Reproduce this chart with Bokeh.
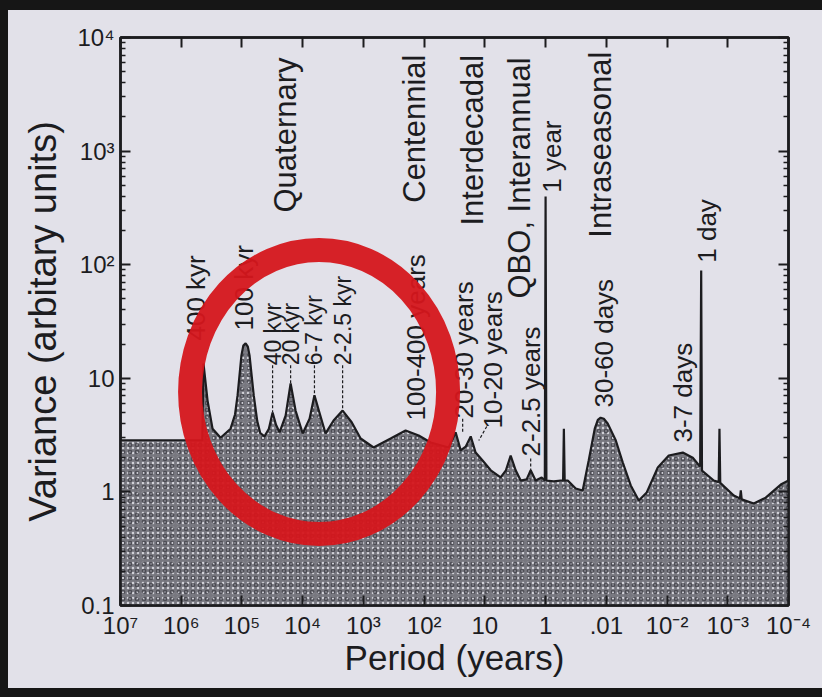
import numpy as np
from bokeh.plotting import figure
from bokeh.models import (Range1d, FixedTicker, ColumnDataSource, LogAxis,
                          BasicTickFormatter)
from bokeh.embed import file_html
from bokeh.resources import INLINE
from bokeh.core.properties import value

# ---------------- data ----------------
# spectrum: period (years) and variance (arbitrary units)
period = [
    1e7, 4.5e5, 4.3e5, 3.69e5, 3.05e5, 2.25e5,            # flat + 400 kyr
    1.54e5, 1.3e5, 1.18e5, 1.02e5, 9.5e4, 8.7e4, 8.0e4, 7.5e4, 6.4e4, 5.6e4, 5.0e4,  # 100 kyr
    4.25e4, 3.6e4, 3.13e4, 2.75e4, 2.4e4,                  # 40 kyr
    1.91e4, 1.58e4, 1.31e4, 1.0e4,                         # 20 kyr
    7.7e3, 6.4e3, 5.3e3, 4.2e3,                            # 6-7 kyr
    3.1e3, 2.2e3, 1.56e3, 1.11e3,                          # 2-2.5 kyr
    680, 356, 202, 123, 78,                                # 100-400 years
    39.4, 30.3, 25, 20.7, 17.1, 14.2, 10.9, 8.0,           # decadal
    5.5, 4.5, 3.76, 3.11, 2.57, 2.05, 1.76, 1.46, 1.16,    # interannual
    1.03, 1.0, 0.97,                                       # 1 year
    0.735, 0.563, 0.515, 0.5, 0.485, 0.432, 0.319, 0.245,  # half year
    0.195, 0.155, 0.138, 0.124, 0.110, 0.095, 0.070, 0.0537, 0.0396,  # 30-60 days
    0.0292, 0.0216, 0.0142, 0.00937, 0.00551, 0.00377,     # 3-7 days
    0.00285, 0.00274, 0.00266,                             # 1 day
    0.0017, 0.00141, 0.00137, 0.00133,                     # half day
    7.96e-4, 6.3e-4, 6.1e-4, 5.9e-4, 3.73e-4, 2.37e-4, 1.34e-4, 1e-4,
]
variance = [
    2.85, 2.85, 13.5, 6.4, 3.6, 3.0,
    3.6, 4.8, 7.1, 15.9, 19.4, 20.3, 19.0, 15.9, 7.1, 4.2, 3.3,
    3.08, 3.6, 5.0, 3.9, 3.34,
    4.7, 9.0, 5.2, 3.27,
    4.4, 7.1, 5.0, 3.27,
    4.25, 5.2, 4.1, 2.95,
    2.46, 2.95, 3.47, 3.14, 2.72,
    2.46, 3.34, 2.32, 2.5, 3.08, 2.22, 1.89, 1.55,
    1.34, 1.55, 2.09, 1.55, 1.26, 1.29, 1.55, 1.26, 1.34,
    1.26, 398, 1.26,
    1.24, 1.26, 1.26, 3.6, 1.26, 1.26, 1.07, 1.03,
    1.89, 3.6, 4.3, 4.5, 4.4, 4.0, 2.85, 1.82, 1.14,
    0.84, 0.99, 1.64, 2.09, 2.22, 2.0,
    1.67, 89, 1.54,
    1.26, 1.22, 3.6, 1.2,
    0.93, 0.875, 1.03, 0.86, 0.79, 0.89, 1.16, 1.26,
]

# band labels (large)
big_text = ["Quaternary", "Centennial", "Interdecadal", "QBO, Interannual", "Intraseasonal"]
big_period = [1.9e4, 144, 15.9, 2.67, 0.1236]
big_var = [288, 351, 221, 50.4, 173]

# peak labels
peak_text = ["400 kyr", "100 kyr", "100-400 years", "20-30 years", "10-20 years",
             "2-2.5 years", "30-60 days", "3-7 days"]
peak_period = [5.8e5, 9.4e4, 138, 22.3, 7.43, 1.76, 0.110, 0.0055]
peak_var = [21.5, 26.4, 4.26, 4.42, 3.62, 2.05, 5.53, 2.72]

# small orbital labels
orb_text = ["40 kyr", "20 kyr", "6-7 kyr", "2-2.5 kyr"]
orb_period = [3.13e4, 1.58e4, 6.4e3, 2.2e3]
orb_var = [13.0, 13.0, 13.0, 13.0]
orb_peak = [5.0, 9.0, 7.1, 5.2]

# spike labels
spike_text = ["1 year", "1 day"]
spike_period = [0.794, 0.00222]
spike_var = [430, 104]

x_ticks = [1e7, 1e6, 1e5, 1e4, 1e3, 1e2, 10.0, 1.0, 0.1, 0.01, 0.001, 1e-4]
x_tick_labels = ["10\u2077", "10\u2076", "10\u2075", "10\u2074", "10\u00b3", "10\u00b2",
                 "10", "1", ".01", "10\u207b\u00b2", "10\u207b\u00b3", "10\u207b\u2074"]
y_ticks = [0.1, 1.0, 10.0, 100.0, 1000.0, 10000.0]
y_tick_labels = ["0.1", "1", "10", "10\u00b2", "10\u00b3", "10\u2074"]

# ---------------- figure ----------------
BG = "#e2e1e9"
DARK = "#161616"
INK = "#1c1c1f"
FONT = "Liberation Sans"

p = figure(width=822, height=697, x_axis_type="log", y_axis_type="log",
           x_range=Range1d(1e7, 1e-4), y_range=Range1d(0.1, 1e4),
           output_backend="svg", toolbar_location=None,
           min_border_left=120, min_border_right=34, min_border_top=37, min_border_bottom=92,
           background_fill_color=BG, border_fill_color=BG, border_fill_alpha=0)
# light slide with the dark edges of the photograph (top, left, bottom)
p.styles = {"background-color": BG,
            "box-shadow": f"inset 8px 10px 0 0 {DARK}, inset 0 -9px 0 0 {DARK}"}
p.grid.visible = False
p.outline_line_color = INK
p.outline_line_width = 2.5

minor_y = [k * 10.0 ** d for d in range(-1, 4) for k in range(2, 10)]
xt = FixedTicker(ticks=x_ticks, minor_ticks=[])
yt = FixedTicker(ticks=y_ticks, minor_ticks=minor_y)

def style_axis(ax, labels=True):
    ax.formatter = BasicTickFormatter()
    ax.axis_line_color = INK
    ax.axis_line_width = 2.5
    ax.major_tick_line_color = INK
    ax.major_tick_line_width = 2
    ax.major_tick_in = 10
    ax.major_tick_out = 0
    ax.minor_tick_line_color = INK
    ax.minor_tick_line_width = 1.5
    ax.minor_tick_in = 5
    ax.minor_tick_out = 0
    ax.major_label_text_font = FONT
    ax.major_label_text_color = INK
    if not labels:
        ax.major_label_text_font_size = "2px"
        ax.major_label_text_color = None
        ax.major_label_standoff = 0

xa = p.xaxis[0]
xa.ticker = xt
style_axis(xa)
xa.major_label_overrides = dict(zip(x_ticks, x_tick_labels))
xa.major_label_text_font_size = "24px"
xa.major_label_standoff = 6
xa.axis_label = "Period (years)"
xa.axis_label_text_font = FONT
xa.axis_label_text_font_size = "35px"
xa.axis_label_text_font_style = "normal"
xa.axis_label_text_color = INK
xa.axis_label_standoff = -4

ya = p.yaxis[0]
ya.ticker = yt
style_axis(ya)
ya.major_label_overrides = dict(zip(y_ticks, y_tick_labels))
ya.major_label_text_font_size = "24px"
ya.major_label_standoff = 6
ya.axis_label = "Variance (arbitary units)"
ya.axis_label_text_font = FONT
ya.axis_label_text_font_size = "38px"
ya.axis_label_text_font_style = "normal"
ya.axis_label_text_color = INK
ya.axis_label_standoff = 10

top = LogAxis(ticker=xt)
style_axis(top, labels=False)
p.add_layout(top, "above")
right = LogAxis(ticker=yt)
style_axis(right, labels=False)
p.add_layout(right, "right")

# ---------------- spectrum ----------------
src = ColumnDataSource(dict(period=period, variance=variance))
p.varea(x="period", y1=0.1, y2="variance", source=src,
        fill_color="#77777f", hatch_pattern="dot", hatch_color="#d2d2d9",
        hatch_scale=5, hatch_weight=1.6)
p.varea(x="period", y1=0.1, y2="variance", source=src,
        fill_alpha=0, hatch_pattern="ring", hatch_color="#38383e",
        hatch_scale=7, hatch_weight=1.2, hatch_alpha=0.7)
p.line(x="period", y="variance", source=src, line_color=INK, line_width=2.2)

# leader lines
lx = [[pp, pp] for pp in orb_period] + [[1.76, 1.76], [9.3, 12.6], [23.2, 23.2]]
ly = [[ov, pv] for ov, pv in zip(orb_var, orb_peak)] + [[1.97, 1.54], [3.77, 2.83], [4.4, 3.33]]
p.multi_line(xs=lx, ys=ly, line_color=INK, line_width=1.2, line_dash="3 2")

# labels
def labels(xs, ys, texts, size):
    p.text(x=xs, y=ys, text=texts, angle=np.pi / 2, text_align="left",
           text_baseline="middle", text_font=value(FONT), text_font_size=size,
           text_color=INK)

labels(big_period, big_var, big_text, "31px")
labels(peak_period, peak_var, peak_text, "26px")
labels(orb_period, orb_var, orb_text, "23px")
labels(spike_period, spike_var, spike_text, "26px")

# red highlight ring drawn over the orbital peaks
p.ellipse(x=[5370], y=[7.57], width=258, height=284, width_units="screen",
          height_units="screen", fill_color=None, line_color="#d5161c",
          line_width=24, line_alpha=0.95)

open("out.html", "w").write(file_html(p, INLINE))
